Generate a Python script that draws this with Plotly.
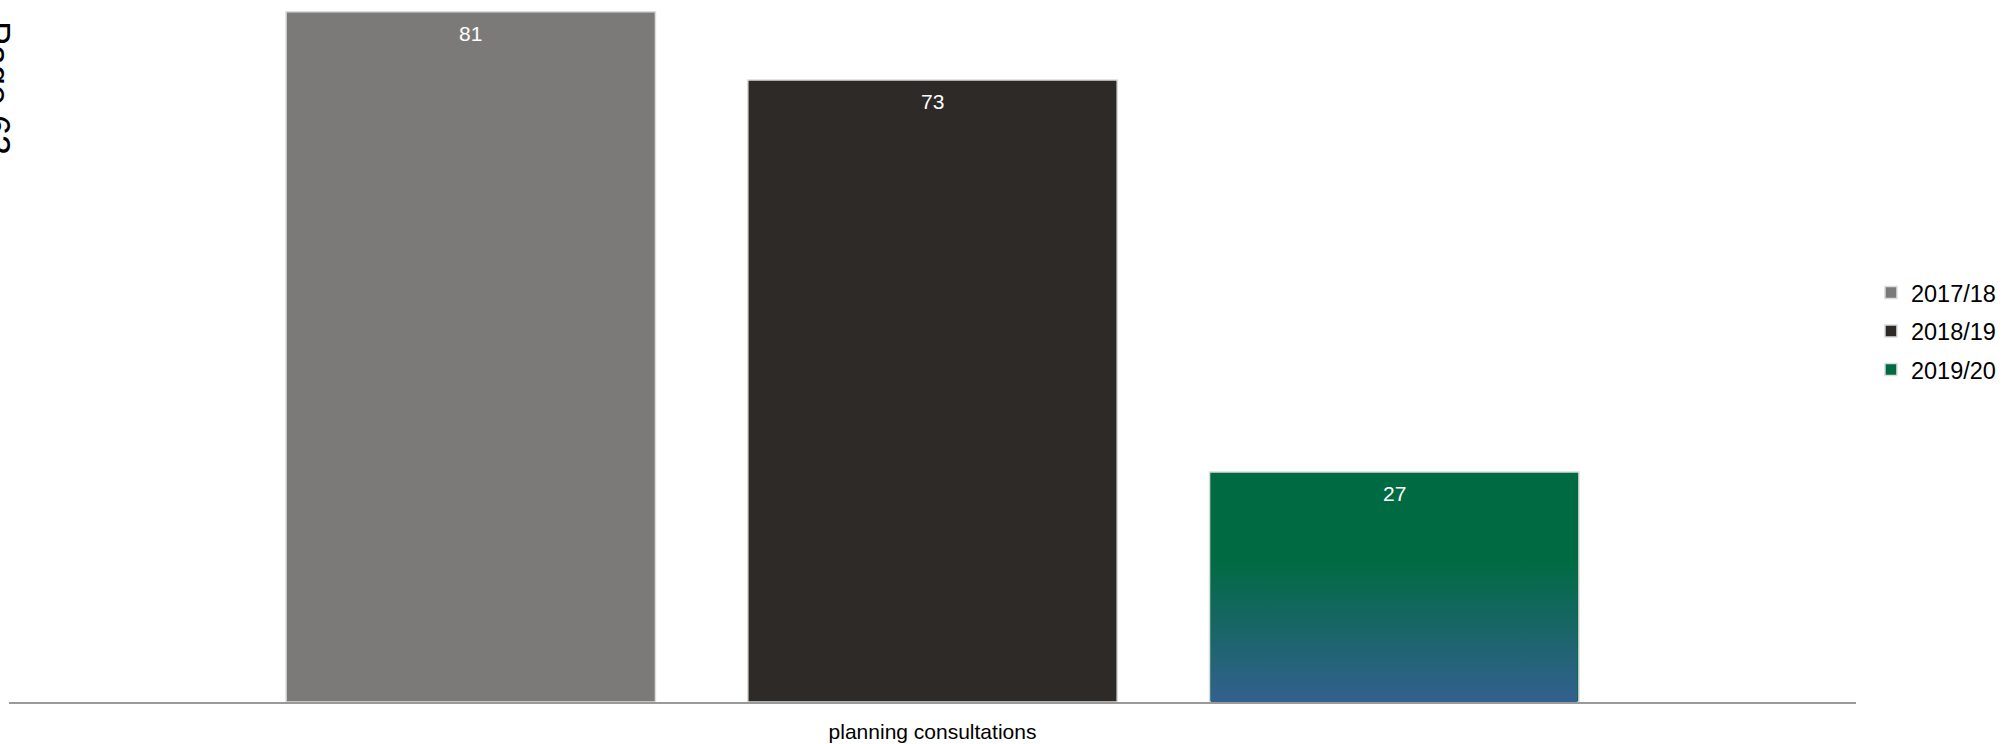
import base64

import plotly.graph_objects as go

# 数据
categories = ["planning consultations"]
series_names = ["2017/18", "2018/19", "2019/20"]
series_values = [[81], [73], [27]]
series_colors = ["#7b7a78", "#2d2a27", "#006b42"]

FONT = "Liberation Sans, Arial, sans-serif"
BARGAP = 0.25
BARGROUPGAP = 0.2

fig = go.Figure()
for name, vals, color in zip(series_names, series_values, series_colors):
    fig.add_trace(go.Bar(
        x=categories, y=vals, name=name,
        marker={"color": color, "line": {"color": "#dcdcdc", "width": 1.5}},
        legendgroup=name,
    ))

# 数据标签：按分组柱的位置放在柱顶内侧
n = len(series_names)
slot = (1 - BARGAP) / n
for i, vals in enumerate(series_values):
    offset = -(1 - BARGAP) / 2 + slot * (i + 0.5)
    for j, v in enumerate(vals):
        fig.add_annotation(
            x=j + offset, y=v, xref="x", yref="y", text=str(v), showarrow=False,
            yanchor="middle", yshift=-22, font={"size": 21, "color": "white", "family": FONT},
        )

# 2019/20 柱底部的渐变（盖在柱子下半部分）
svg = (
    '<svg xmlns="http://www.w3.org/2000/svg" width="10" height="100" preserveAspectRatio="none">'
    '<defs><linearGradient id="g" x1="0" y1="0" x2="0" y2="1">'
    '<stop offset="0" stop-color="#006b42"/><stop offset="1" stop-color="#33608f"/>'
    '</linearGradient></defs><rect width="10" height="100" fill="url(#g)"/></svg>'
)
src = "data:image/svg+xml;base64," + base64.b64encode(svg.encode()).decode()
last = n - 1
offset = -(1 - BARGAP) / 2 + slot * (last + 0.5)
bar_w = slot * (1 - BARGROUPGAP) - 0.0015
grad_top = series_values[last][0] * 0.62
fig.add_layout_image(
    source=src, xref="x", yref="y", x=offset - bar_w / 2, y=grad_top,
    sizex=bar_w, sizey=grad_top, xanchor="left", yanchor="top",
    sizing="stretch", layer="above",
)

# 左上角被裁掉的页码
fig.add_annotation(
    x=-0.0192, y=0.881, xref="paper", yref="paper", text="Page 63", showarrow=False,
    xanchor="left", yanchor="middle",
    textangle=90, font={"size": 36, "color": "black", "family": FONT},
)

fig.update_layout(
    width=2006, height=744,
    barmode="group", bargap=BARGAP, bargroupgap=BARGROUPGAP,
    paper_bgcolor="white", plot_bgcolor="white",
    margin={"l": 9, "r": 150, "t": 5, "b": 42, "autoexpand": False},
    font={"family": FONT, "color": "black"},
    showlegend=True,
    legend={
        "x": 1.0081, "xanchor": "left", "y": 0.532, "yanchor": "middle",
        "font": {"size": 23.5, "color": "black", "family": FONT},
        "traceorder": "grouped", "tracegroupgap": 5, "bgcolor": "rgba(0,0,0,0)",
    },
    xaxis={
        "showline": True, "linecolor": "#9a9a9a", "linewidth": 2, "ticks": "",
        "tickfont": {"size": 21, "color": "black"}, "ticklabelstandoff": 10,
        "showgrid": False, "zeroline": False,
    },
    yaxis={"range": [0, 81.8], "visible": False, "showgrid": False, "zeroline": False},
)

# 去掉页面默认的 8px 边距，让图从窗口左上角开始
fig.write_html(
    "out.html",
    config={"displayModeBar": False},
    post_script="document.body.style.margin = '0';",
)
